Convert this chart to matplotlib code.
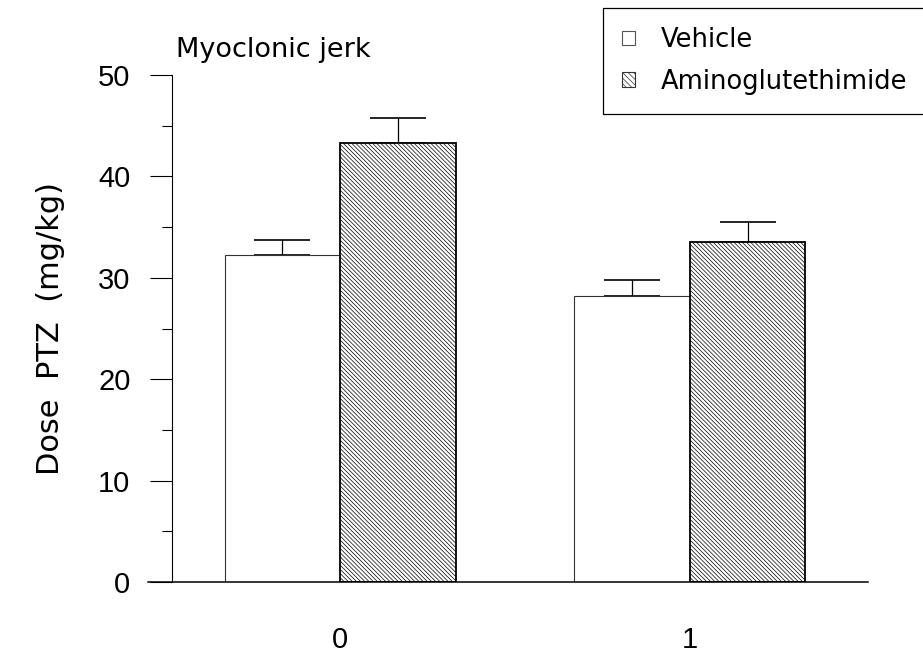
import matplotlib
matplotlib.use("Agg")
import matplotlib.pyplot as plt
from matplotlib.patches import Patch
from matplotlib.ticker import MultipleLocator

# data
groups = ["0", "1"]
vehicle = [32.2, 28.2]
vehicle_err = [1.5, 1.6]
amino = [43.3, 33.5]
amino_err = [2.5, 2.0]

plt.rcParams["hatch.linewidth"] = 0.5

fig = plt.figure(figsize=(9.23, 6.62), dpi=100)
ax = fig.add_axes([148 / 923, 80 / 662, 720 / 923, 507 / 662])

x = range(len(groups))
w = 0.33
xv = [i - w / 2 for i in x]
xa = [i + w / 2 for i in x]

ax.bar(xv, vehicle, w, color="white", edgecolor="#333333", linewidth=0.8, zorder=2)
ax.bar(xa, amino, w, color="white", edgecolor="black", linewidth=1.3,
       hatch="\\" * 8, zorder=2)
ax.errorbar(xv, vehicle, yerr=[[0, 0], vehicle_err], fmt="none", ecolor="black",
            elinewidth=0.9, capsize=20, capthick=1.2, zorder=1)
ax.errorbar(xa, amino, yerr=[[0, 0], amino_err], fmt="none", ecolor="black",
            elinewidth=0.9, capsize=20, capthick=1.2, zorder=1)

ax.set_xlim(-0.549, 1.509)
ax.set_ylim(0, 50)

for s in ["top", "right"]:
    ax.spines[s].set_visible(False)
ax.spines["left"].set_position(("data", -0.48))
ax.spines["left"].set_bounds(0, 50)
ax.spines["left"].set_linewidth(0.8)
ax.spines["bottom"].set_linewidth(1.1)

ax.yaxis.set_major_locator(MultipleLocator(10))
ax.yaxis.set_minor_locator(MultipleLocator(5))
ax.tick_params(axis="y", which="major", length=16, width=0.8, pad=14,
               labelsize=21)
ax.tick_params(axis="y", which="minor", length=7, width=0.8)
ax.set_xticks(list(x))
ax.set_xticklabels(groups)
ax.tick_params(axis="x", length=0, pad=32, labelsize=21)
for lab in ax.get_xticklabels() + ax.get_yticklabels():
    lab.set_family("Liberation Sans")

ax.set_ylabel("Dose  PTZ  (mg/kg)", fontsize=22, family="DejaVu Sans", labelpad=24)

fig.text(176 / 923, 1 - 57 / 662, "Myoclonic jerk", fontsize=19.5,
         family="DejaVu Sans", ha="left", va="baseline")

handles = [Patch(facecolor="white", edgecolor="#555555", linewidth=0.8),
           Patch(facecolor="white", edgecolor="#333333", linewidth=0.8,
                 hatch="\\" * 6)]
leg = fig.legend(handles, ["Vehicle", "Aminoglutethimide"], loc="upper left",
                 bbox_to_anchor=(603 / 923, 1 - 8 / 662), borderaxespad=0,
                 prop={"family": "DejaVu Sans", "size": 18.5},
                 handlelength=0.5, handleheight=0.5, handletextpad=1.0,
                 labelspacing=0.6, borderpad=0.75, fancybox=False,
                 framealpha=1, edgecolor="black")
leg.get_frame().set_linewidth(0.9)

fig.savefig("out.png", dpi=100)
